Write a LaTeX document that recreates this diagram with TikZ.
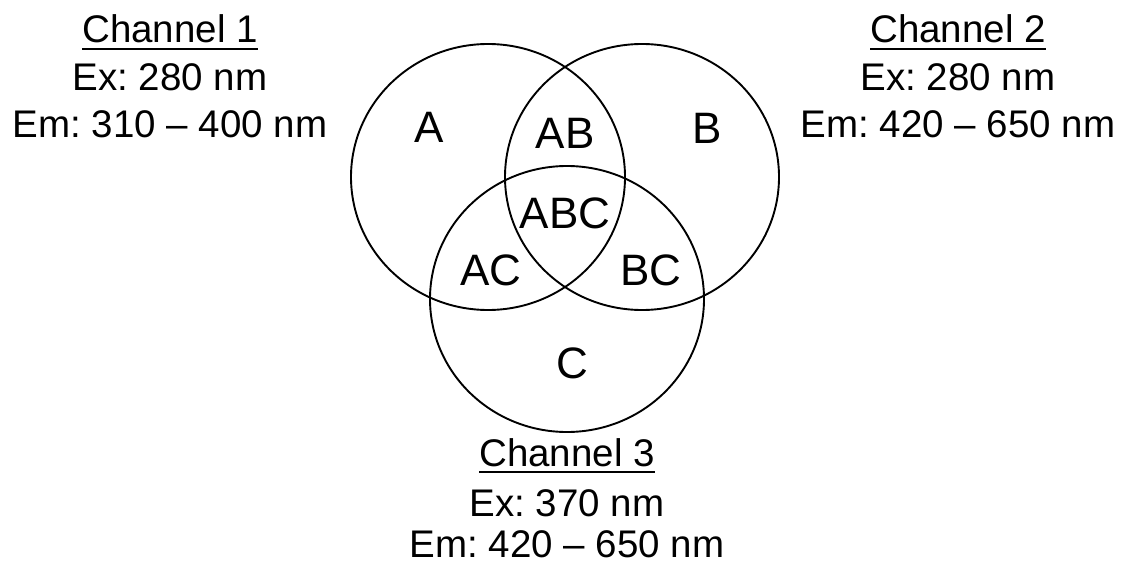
\documentclass[tikz,border=0pt]{standalone}
\usepackage{fontspec}
\setmainfont{Liberation Sans}
\frenchspacing
\begin{document}
\begin{tikzpicture}[x={(1pt,0)}, y={(0,-1pt)},
  setcircle/.style={draw=black, line width=1.9pt},
  region/.style={inner sep=0pt, anchor=base, font=\fontsize{44}{50}\selectfont},
  infoline/.style={inner sep=0pt, anchor=base, font=\fontsize{38.5}{45}\selectfont},
  rule/.style={line width=2pt}]
\useasboundingbox (0,0) rectangle (1123,564);

% three overlapping sets
\draw[setcircle] (488,177) ellipse [x radius=137, y radius=133];
\draw[setcircle] (642,177) ellipse [x radius=137, y radius=133];
\draw[setcircle] (567,299) ellipse [x radius=137, y radius=133];

% region labels
\node[region] (rA)   at (429,143) {A};
\node[region] (rAB)  at (565,149) {AB};
\node[region] (rB)   at (707,144) {B};
\node[region] (rABC) at (565,228) {ABC};
\node[region] (rAC)  at (491,285) {AC};
\node[region] (rBC)  at (651,285) {BC};
\node[region] (rC)   at (572,378) {C};

% channel 1
\node[infoline] (ch1)   at (170,43)  {Channel 1};
\node[infoline] (ch1ex) at (170,91)  {Ex: 280 nm};
\node[infoline] (ch1em) at (170,138) {Em: 310 – 400 nm};
\draw[rule] ([yshift=-6pt]ch1.base west) -- ([yshift=-6pt]ch1.base east);

% channel 2
\node[infoline] (ch2)   at (958,43)  {Channel 2};
\node[infoline] (ch2ex) at (958,91)  {Ex: 280 nm};
\node[infoline] (ch2em) at (958,138) {Em: 420 – 650 nm};
\draw[rule] ([yshift=-6pt]ch2.base west) -- ([yshift=-6pt]ch2.base east);

% channel 3
\node[infoline] (ch3)   at (567,466) {Channel 3};
\node[infoline] (ch3ex) at (567,516) {Ex: 370 nm};
\node[infoline] (ch3em) at (567,557) {Em: 420 – 650 nm};
\draw[rule] ([yshift=-6pt]ch3.base west) -- ([yshift=-6pt]ch3.base east);
\end{tikzpicture}
\end{document}
